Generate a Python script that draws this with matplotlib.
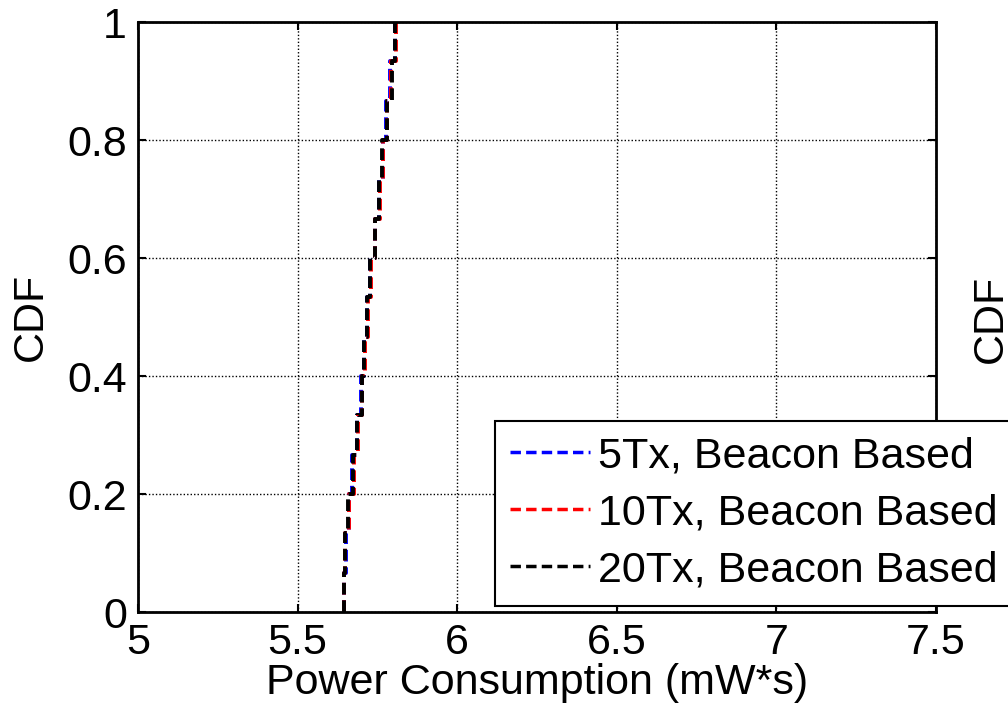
import numpy as np
import matplotlib
matplotlib.use('Agg')
import matplotlib.pyplot as plt

# sorted samples of power consumption (mW*s)
power_5tx = [5.646, 5.652, 5.662, 5.671, 5.687, 5.699, 5.708, 5.716, 5.728,
             5.742, 5.754, 5.767, 5.777, 5.790, 5.806]
power_10tx = [5.645, 5.650, 5.660, 5.678, 5.689, 5.702, 5.712, 5.719, 5.729,
              5.744, 5.757, 5.769, 5.779, 5.792, 5.807]
power_20tx = [5.644, 5.649, 5.659, 5.675, 5.685, 5.701, 5.707, 5.717, 5.727,
              5.743, 5.754, 5.764, 5.780, 5.795, 5.805]

series = [
    ('5Tx, Beacon Based', power_5tx, 'blue'),
    ('10Tx, Beacon Based', power_10tx, 'red'),
    ('20Tx, Beacon Based', power_20tx, 'black'),
]

xticks = [5, 5.5, 6, 6.5, 7, 7.5]
xticklabels = ['5', '5.5', '6', '6.5', '7', '7.5']
yticks = [0, 0.2, 0.4, 0.6, 0.8, 1]
yticklabels = ['0', '0.2', '0.4', '0.6', '0.8', '1']

plt.rcParams['font.family'] = ['Liberation Sans', 'DejaVu Sans']
plt.rcParams['font.size'] = 31

fig = plt.figure(figsize=(10.08, 7.14), dpi=100)
ax = fig.add_axes([138 / 1008, 102 / 714, 798 / 1008, 590 / 714])

for label, vals, color in series:
    x = np.sort(np.array(vals))
    y = np.arange(1, len(x) + 1) / len(x)
    x = np.concatenate([[x[0]], x])
    y = np.concatenate([[0], y])
    ax.step(x, y, where='post', color=color, lw=2.8, ls='--',
            dashes=(3, 1.5), label=label)

ax.set_xlim(5, 7.5)
ax.set_ylim(0, 1)
ax.set_xticks(xticks)
ax.set_xticklabels(xticklabels)
ax.set_yticks(yticks)
ax.set_yticklabels(yticklabels)
ax.grid(True, color='black', ls=(0, (1, 1.5)), lw=1.0)
ax.tick_params(direction='in', length=6, width=1.5, top=True, right=True, pad=8)
for s in ax.spines.values():
    s.set_linewidth(2)
ax.set_xlabel('Power Consumption (mW*s)', labelpad=0)
ax.set_ylabel('CDF', labelpad=12)

# label of the neighbouring subplot, cut off by the frame
fig.text(991 / 1008, 1 - 319 / 714, 'CDF', rotation=90, ha='center', va='center')

leg = ax.legend(loc='upper left', bbox_to_anchor=(495 / 1008, 1 - 421 / 714),
                bbox_transform=fig.transFigure, fancybox=False, framealpha=1,
                edgecolor='black', handlelength=1.85, handletextpad=0.2,
                labelspacing=0.4, borderpad=0.35, borderaxespad=0)
leg.get_frame().set_linewidth(1.5)
for h in leg.get_lines():
    h.set_linewidth(2.5)
leg.set_clip_on(False)

fig.savefig('out.png', dpi=100)
